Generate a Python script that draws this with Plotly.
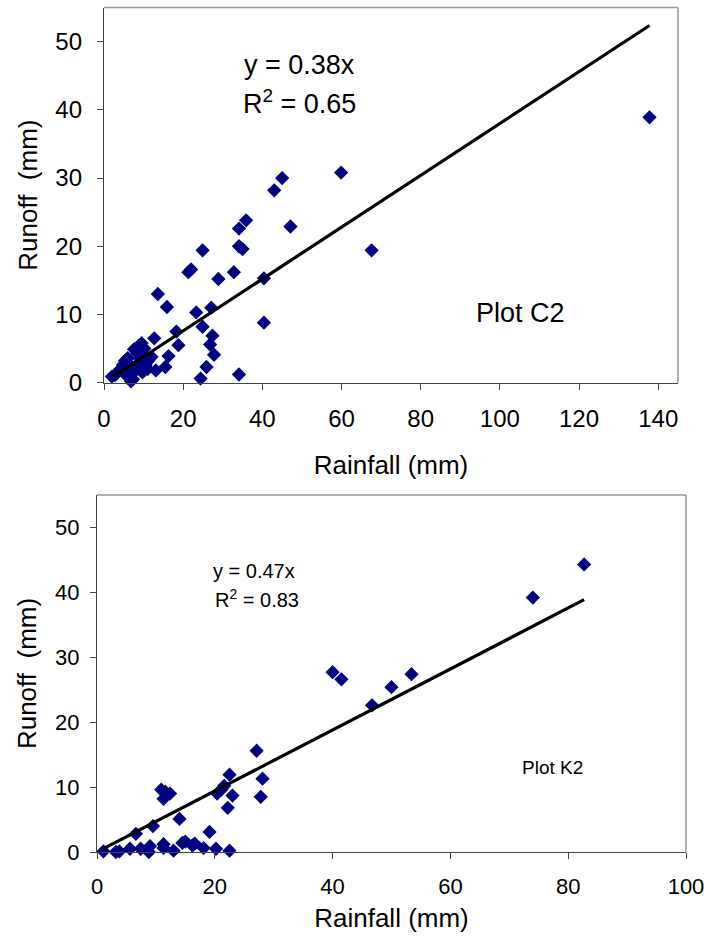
import plotly.graph_objects as go

# ---- Plot C2 (top) ----
c2_rain = [137.8, 59.9, 45.0, 43.0, 35.9, 34.1, 47.1, 34.1, 35.0, 24.9, 67.6, 21.3, 22.0, 32.8,
           28.9, 40.4, 13.6, 15.9, 27.1, 23.3, 40.4, 24.9, 27.4, 12.7, 18.3, 18.8, 26.8, 27.8,
           16.3, 25.9, 15.5, 13.1, 34.1, 24.4,
           2.0, 2.8, 3.5, 4.2, 4.8, 5.3, 6.0, 5.5, 6.2, 6.8, 7.3, 7.6, 8.4, 8.8, 9.5, 10.2,
           8.0, 8.6, 9.2, 9.7, 10.5, 11.2, 11.0, 12.0, 7.0, 5.8]
c2_runoff = [38.9, 30.8, 30.0, 28.2, 23.8, 22.6, 22.9, 20.0, 19.6, 19.4, 19.4, 16.2, 16.6, 16.2,
             15.2, 15.3, 13.0, 11.1, 11.0, 10.3, 8.8, 8.2, 6.9, 6.5, 7.5, 5.5, 5.6, 4.1,
             3.9, 2.3, 2.3, 1.8, 1.2, 0.6,
             0.9, 1.1, 1.6, 2.0, 2.6, 3.2, 3.6, 1.5, 0.8, 0.2, 0.5, 4.9, 4.3, 5.4, 5.8, 5.0,
             1.8, 2.8, 3.5, 1.5, 2.6, 3.2, 2.0, 3.8, 2.3, 1.0]
c2_slope = 0.38
c2_label_eq = "y = 0.38x"
c2_label_r2 = "R<sup>2</sup> = 0.65"
c2_label_plot = "Plot C2"
c2_xticks = [0, 20, 40, 60, 80, 100, 120, 140]
c2_yticks = [0, 10, 20, 30, 40, 50]

# ---- Plot K2 (bottom) ----
k2_rain = [82.7, 74.0, 40.0, 41.5, 53.4, 50.0, 46.7, 27.1, 22.5, 28.1, 21.6, 21.1, 20.4, 23.0,
           27.8, 22.2, 10.9, 12.4, 11.3, 11.6, 14.0, 9.5, 6.6, 19.1, 1.1, 3.2, 3.8, 5.6, 7.4,
           8.8, 9.0, 11.3, 11.3, 13.0, 14.5, 15.0, 16.2, 16.6, 18.1, 20.2, 22.5]
k2_runoff = [44.3, 39.2, 27.7, 26.6, 27.4, 25.4, 22.6, 15.6, 11.9, 11.3, 10.2, 9.6, 9.0, 8.7,
             8.5, 6.8, 9.6, 9.0, 8.2, 9.3, 5.1, 4.0, 2.8, 3.1, 0.1, 0.0, 0.1, 0.5, 0.5,
             0.0, 0.9, 1.2, 0.6, 0.2, 1.4, 1.6, 1.0, 1.3, 0.6, 0.5, 0.2]
k2_slope = 0.47
k2_label_eq = "y = 0.47x"
k2_label_r2 = "R<sup>2</sup> = 0.83"
k2_label_plot = "Plot K2"
k2_xticks = [0, 20, 40, 60, 80, 100]
k2_yticks = [0, 10, 20, 30, 40, 50]

x_title = "Rainfall (mm)"
y_title = "Runoff\u00a0\u00a0(mm)"

MARK = "#000080"
FONT = "Liberation Sans, Arial, sans-serif"

fig = go.Figure()

def add_panel(rain, runoff, slope, xa, ya):
    fig.add_trace(go.Scatter(x=rain, y=runoff, mode="markers", xaxis=xa, yaxis=ya,
                             marker=dict(symbol="diamond", size=11, color=MARK,
                                         line=dict(width=0)),
                             showlegend=False, hoverinfo="skip", cliponaxis=False))
    xs = [min(rain), max(rain)]
    fig.add_trace(go.Scatter(x=xs, y=[slope * v for v in xs], mode="lines",
                             xaxis=xa, yaxis=ya, line=dict(color="black", width=3.2),
                             showlegend=False, hoverinfo="skip"))

add_panel(c2_rain, c2_runoff, c2_slope, "x", "y")
add_panel(k2_rain, k2_runoff, k2_slope, "x2", "y2")

W, H = 704, 937
def dom_x(a, b):
    return [a / W, b / W]
def dom_y(top, bottom):
    return [1 - bottom / H, 1 - top / H]

axis_common = dict(showgrid=False, zeroline=False, showline=True, linecolor="#444",
                   linewidth=1.3, ticks="outside", tickcolor="#444", ticklen=6,
                   automargin=False, ticklabeloverflow="allow")

fig.update_layout(
    width=W, height=H, margin=dict(l=0, r=0, t=0, b=0),
    paper_bgcolor="white", plot_bgcolor="white",
    xaxis=dict(domain=dom_x(104, 678), range=[0, 145], tickvals=c2_xticks,
               anchor="y", ticklabelstandoff=8,
               tickfont=dict(family=FONT, size=24, color="black"),
               title=dict(text=x_title, font=dict(family=FONT, size=26, color="black"),
                          standoff=25),
               **axis_common),
    yaxis=dict(domain=dom_y(7.5, 382.7), range=[0, 55], tickvals=c2_yticks,
               anchor="x", ticklabelstandoff=10,
               tickfont=dict(family=FONT, size=24, color="black"),
               title=dict(text=y_title, font=dict(family=FONT, size=26, color="black"),
                          standoff=10),
               **axis_common),
    xaxis2=dict(domain=dom_x(97, 686), range=[0, 100], tickvals=k2_xticks,
                anchor="y2", ticklabelstandoff=8,
                tickfont=dict(family=FONT, size=22, color="black"),
                title=dict(text=x_title, font=dict(family=FONT, size=26, color="black"),
                           standoff=11),
                **axis_common),
    yaxis2=dict(domain=dom_y(495, 852), range=[0, 55], tickvals=k2_yticks,
                anchor="x2", ticklabelstandoff=6,
                tickfont=dict(family=FONT, size=22, color="black"),
                title=dict(text=y_title, font=dict(family=FONT, size=26, color="black"),
                           standoff=10),
                **axis_common),
)

# light grey frame on top/right
for xr, yr in [("x domain", "y domain"), ("x2 domain", "y2 domain")]:
    fig.add_shape(type="line", xref=xr, yref=yr, x0=0, x1=1, y0=1, y1=1,
                  line=dict(color="#999", width=1.5))
    fig.add_shape(type="line", xref=xr, yref=yr, x0=1, x1=1, y0=0, y1=1,
                  line=dict(color="#999", width=1.5))

def ann(text, xr, yr, x, y, size):
    fig.add_annotation(text=text, xref=xr, yref=yr, x=x, y=y, showarrow=False,
                       xanchor="center", yanchor="middle",
                       font=dict(family=FONT, size=size, color="black"))

ann(c2_label_eq, "x domain", "y domain", 0.341, 0.847, 27)
ann(c2_label_r2, "x domain", "y domain", 0.341, 0.748, 27)
ann(c2_label_plot, "x domain", "y domain", 0.725, 0.186, 27)
ann(k2_label_eq, "x2 domain", "y2 domain", 0.267, 0.787, 20)
ann(k2_label_r2, "x2 domain", "y2 domain", 0.272, 0.711, 20)
ann(k2_label_plot, "x2 domain", "y2 domain", 0.774, 0.238, 19)

fig.write_html(
    "out.html",
    config={"displayModeBar": False},
    post_script="document.body.style.margin='0';document.body.style.overflow='hidden';",
)
